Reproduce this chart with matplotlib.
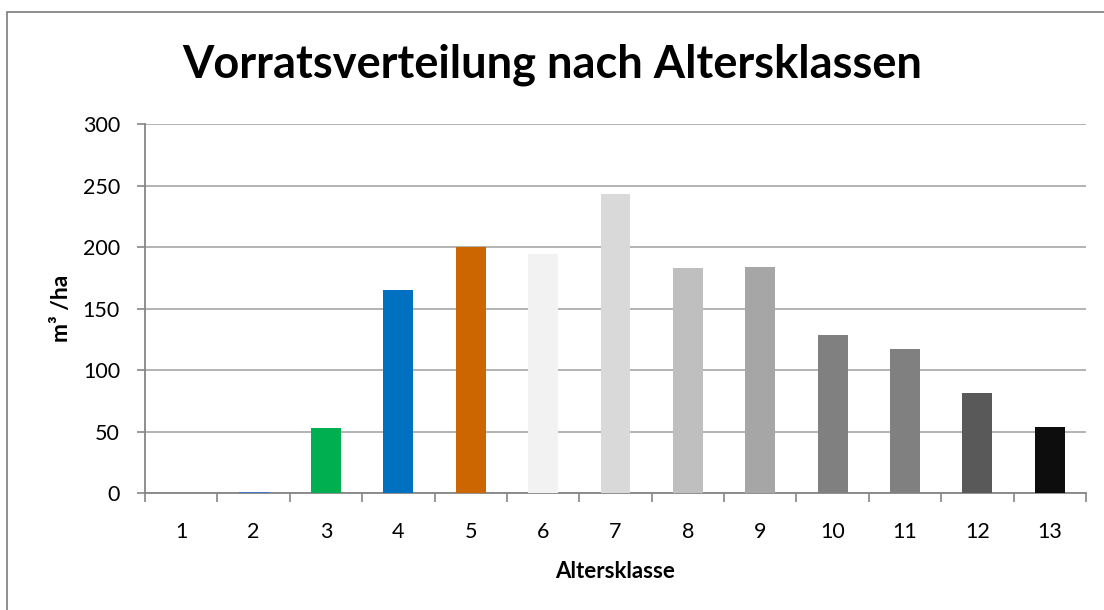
import numpy as np
import matplotlib.pyplot as plt
from matplotlib.patches import Rectangle

plt.rcParams['font.family'] = ['Lato', 'DejaVu Sans']

# values
classes = [str(i) for i in range(1, 14)]
volume = [0, 1, 53, 165, 200, 194, 243, 183, 184, 129, 117, 81.5, 54]
bar_colors = ["#4472C4", "#4472C4", "#00B050", "#0070C0", "#CC6600",
              "#F2F2F2", "#D9D9D9", "#BFBFBF", "#A6A6A6", "#808080",
              "#808080", "#595959", "#0D0D0D"]
y_ticks = [0, 50, 100, 150, 200, 250, 300]

W, H = 1104, 610
fig = plt.figure(figsize=(W / 100, H / 100), dpi=100)
ax = fig.add_axes([145 / W, 1 - 493.3 / H, (1086 - 145) / W, (493.3 - 124) / H])

x = np.arange(len(classes))
ax.bar(x, volume, width=0.414, color=bar_colors, zorder=3)

ax.set_xlim(-0.5, len(classes) - 0.5)
ax.set_ylim(0, 300)
ax.set_yticks(y_ticks)
ax.set_xticks(x)
ax.set_xticklabels(classes)
# ticks sit on the category boundaries, labels in the middle
ax.set_xticks(np.arange(-0.5, len(classes)), minor=True)
ax.tick_params(axis='x', which='major', length=0, pad=21, labelsize=15.5)
ax.tick_params(axis='x', which='minor', length=6.5, width=1.2, color='#868686')
ax.tick_params(axis='y', length=6, width=1.2, color='#868686', pad=12, labelsize=15.5)

ax.grid(axis='y', color='#9E9E9E', linewidth=1.1, zorder=0)
for side in ['top', 'right']:
    ax.spines[side].set_visible(False)
for side in ['left', 'bottom']:
    ax.spines[side].set_color('#868686')
    ax.spines[side].set_linewidth(1.3)

ax.set_xlabel('Altersklasse', fontsize=16, fontweight='bold', labelpad=13)
ax.set_ylabel('m³ /ha', fontsize=16.5, fontweight='bold', labelpad=8)

fig.text(0.5, 1 - 77 / H, 'Vorratsverteilung nach Altersklassen',
         ha='center', va='baseline', fontsize=32.5, fontweight='bold')

# chart-area frame, cut off at the right and bottom like the screenshot
fig.patches.append(Rectangle((6.5 / W, -0.05), 1.1, 1 - 12 / H + 0.05,
                             transform=fig.transFigure, fill=False,
                             edgecolor='#868686', linewidth=1.3))

fig.savefig('out.png', dpi=100)
